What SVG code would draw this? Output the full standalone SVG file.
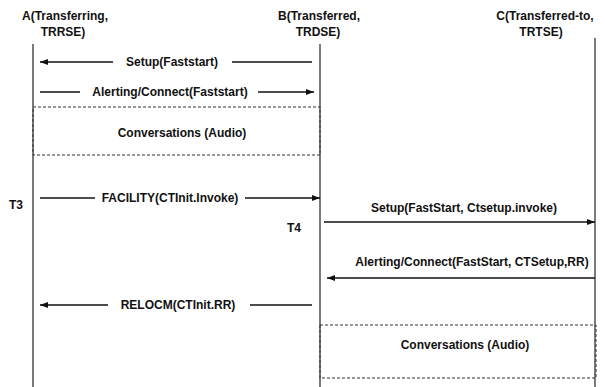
<svg xmlns="http://www.w3.org/2000/svg" width="605" height="387" viewBox="0 0 605 387">
<style>
text{font-family:"Liberation Sans",Arial,sans-serif;font-weight:bold;font-size:12px;fill:#111}
.m{text-anchor:middle}
.life{stroke:#222;stroke-width:1.2;fill:none}
.msg{stroke:#111;stroke-width:1.3;fill:none}
.box{stroke:#333;stroke-width:1;stroke-dasharray:3,2;fill:none}
</style>
<defs>
<marker id="ah" markerUnits="userSpaceOnUse" markerWidth="9" markerHeight="7" refX="8" refY="3.5" orient="auto">
<path d="M0,0.5 L8,3.5 L0,6.5 z" fill="#111"/>
</marker>
</defs>
<rect width="605" height="387" fill="#fff"/>
<g id="nodeA">
<text class="m" x="65" y="20">A(Transferring,</text>
<text class="m" x="63" y="36">TRRSE)</text>
<line class="life" x1="33" y1="44" x2="33" y2="387"/>
</g>
<g id="nodeB">
<text class="m" x="319" y="20">B(Transferred,</text>
<text class="m" x="318" y="36">TRDSE)</text>
<line class="life" x1="320" y1="44" x2="320" y2="387"/>
</g>
<g id="nodeC">
<text class="m" x="545" y="20">C(Transferred-to,</text>
<text class="m" x="541" y="36">TRTSE)</text>
<line class="life" x1="595" y1="38" x2="595" y2="387"/>
</g>
<g id="conv1">
<rect class="box" x="33" y="107" width="287" height="48"/>
<text class="m" x="182" y="137">Conversations (Audio)</text>
</g>
<g id="conv2">
<rect class="box" x="320" y="325" width="276" height="53"/>
<text class="m" x="465" y="349">Conversations (Audio)</text>
</g>
<g id="labels">
<text x="9" y="209">T3</text>
<text x="287" y="232">T4</text>
</g>
<g id="connectors">
<line class="msg" x1="113" y1="62" x2="40" y2="62" marker-end="url(#ah)"/>
<line class="msg" x1="232" y1="62" x2="312" y2="62"/>
<text class="m" x="172" y="66">Setup(Faststart)</text>
<line class="msg" x1="40" y1="92" x2="80" y2="92"/>
<line class="msg" x1="258" y1="92" x2="314" y2="92" marker-end="url(#ah)"/>
<text class="m" x="170" y="96">Alerting/Connect(Faststart)</text>
<line class="msg" x1="40" y1="198" x2="95" y2="198"/>
<line class="msg" x1="245" y1="198" x2="320" y2="198" marker-end="url(#ah)"/>
<text class="m" x="170" y="202">FACILITY(CTInit.Invoke)</text>
<line class="msg" x1="108" y1="305" x2="40" y2="305" marker-end="url(#ah)"/>
<line class="msg" x1="250" y1="305" x2="312" y2="305"/>
<text class="m" x="178" y="309">RELOCM(CTInit.RR)</text>
<line class="msg" x1="324" y1="222" x2="595" y2="222" marker-end="url(#ah)"/>
<text class="m" x="464" y="212">Setup(FastStart, Ctsetup.invoke)</text>
<line class="msg" x1="595" y1="278" x2="327" y2="278" marker-end="url(#ah)"/>
<text class="m" x="472" y="266">Alerting/Connect(FastStart, CTSetup,RR)</text>
</g>
</svg>
